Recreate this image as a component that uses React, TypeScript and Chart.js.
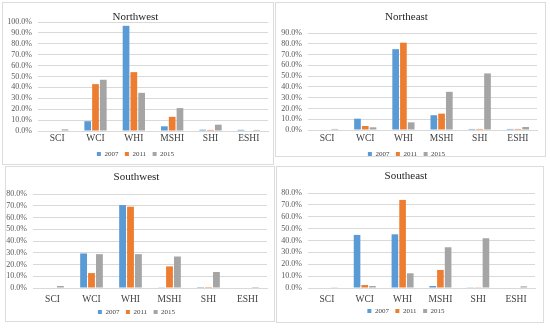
import React, { useEffect, useRef } from "react";
import { Chart, registerables } from "chart.js";
Chart.register(...registerables);

const categories = ["SCI", "WCI", "WHI", "MSHI", "SHI", "ESHI"];
const years = ["2007", "2011", "2015"];
const colors = ["#5B9BD5", "#ED7D31", "#A5A5A5"];

const nw2007 = [0, 9, 96.5, 4.3, 1.2, 1.1];
const nw2011 = [0, 43, 54, 13, 1.0, 0];
const nw2015 = [1.5, 47, 35, 21, 5.8, 1.0];

const ne2007 = [0, 10.5, 75, 13.7, 1.0, 1.0];
const ne2011 = [0, 3.7, 81, 15.2, 1.0, 1.0];
const ne2015 = [1.0, 2.5, 7.1, 35.4, 52.5, 2.8];

const sw2007 = [0, 29.4, 70.6, 0.6, 0.8, 0];
const sw2011 = [0, 12.7, 69.2, 18.4, 0.8, 0];
const sw2015 = [1.7, 28.8, 28.8, 26.8, 13.6, 0.8];

const se2007 = [0, 44.7, 45.2, 1.7, 0.6, 0];
const se2011 = [0, 2.5, 74.2, 15.2, 0.6, 0];
const se2015 = [0.6, 1.7, 12.4, 34.3, 41.9, 1.4];

type Layout = {
  box: { left: number; top: number; width: number; height: number };
  area: { left: number; right: number; top: number; bottom: number };
  titleY: number;
  labelY: number;
  legendY: number;
};

const FONT = "'Liberation Serif', 'Times New Roman', serif";
const TITLE_SIZE = 11;
const XLABEL_SIZE = 9.5;
const LEGEND_SIZE = 7;
const LEGEND_PAD = 6.5;

function Panel(props: { title: string; series: number[][]; yMax: number; layout: Layout }) {
  const ref = useRef<HTMLCanvasElement | null>(null);
  const { box, area, titleY, labelY, legendY } = props.layout;
  const cw = box.width - 2;
  const ch = box.height - 2;
  useEffect(() => {
    if (!ref.current) return;
    const ox = box.left + 1;
    const oy = box.top + 1;
    const aL = area.left - ox;
    const aR = area.right - ox;
    const aT = area.top - oy;
    const aB = area.bottom - oy;
    const tY = titleY - oy;
    const lY = labelY - oy;
    const gY = legendY - oy;
    const titlePadTop = tY - TITLE_SIZE / 2;
    const titlePadBottom = aT - titlePadTop - TITLE_SIZE;
    const xPad = lY - aB - XLABEL_SIZE / 2;
    const xH = gY - aB - LEGEND_PAD - LEGEND_SIZE / 2;
    const legendH = ch - aB - xH;
    const chart = new Chart(ref.current, {
      type: "bar",
      data: {
        labels: categories,
        datasets: years.map((y, i) => ({
          label: y,
          data: props.series[i],
          backgroundColor: colors[i],
          borderColor: colors[i],
          borderWidth: 0,
          categoryPercentage: 0.61,
          barPercentage: 0.86,
        })),
      },
      options: {
        animation: false,
        responsive: false,
        maintainAspectRatio: false,
        devicePixelRatio: 1,
        layout: { padding: { left: 0, right: cw - aR, top: 0, bottom: 0 } },
        plugins: {
          tooltip: { enabled: false },
          title: {
            display: true,
            text: props.title,
            color: "#262626",
            font: { family: FONT, size: TITLE_SIZE, weight: "normal", lineHeight: 1 },
            padding: { top: titlePadTop, bottom: titlePadBottom },
          },
          legend: {
            position: "bottom",
            maxHeight: legendH,
            labels: {
              boxWidth: 4,
              boxHeight: 4,
              padding: LEGEND_PAD,
              color: "#404040",
              font: { family: FONT, size: LEGEND_SIZE },
            },
          },
        },
        scales: {
          x: {
            grid: { display: false, drawTicks: false },
            border: { display: true, color: "#d9d9d9" },
            ticks: {
              color: "#404040",
              padding: xPad,
              font: { family: FONT, size: XLABEL_SIZE, lineHeight: 1 },
              maxRotation: 0,
              autoSkip: false,
            },
            afterFit: (s: any) => {
              s.height = xH;
              // let the category labels run past the axis box instead of being clipped
              s._computeLabelArea = () => undefined;
            },
          },
          y: {
            min: 0,
            max: props.yMax,
            grid: { color: "#d9d9d9", drawTicks: false },
            border: { display: false },
            ticks: {
              stepSize: 10,
              autoSkip: false,
              color: "#595959",
              padding: 6,
              font: { family: FONT, size: 8 },
              callback: (v: any) => Number(v).toFixed(1) + "%",
            },
            afterFit: (s: any) => {
              s.width = aL;
            },
          },
        },
      },
    });
    return () => chart.destroy();
  }, []);
  return (
    <div
      style={{
        position: "absolute",
        left: box.left,
        top: box.top,
        width: box.width,
        height: box.height,
        boxSizing: "border-box",
        border: "1px solid #dcdcdc",
        background: "#fff",
      }}
    >
      <canvas ref={ref} width={cw} height={ch} style={{ display: "block", width: cw, height: ch }} />
    </div>
  );
}

const layouts: Record<string, Layout> = {
  nw: {
    box: { left: 2, top: 2, width: 272, height: 163 },
    area: { left: 38, right: 268, top: 22, bottom: 131 },
    titleY: 17,
    labelY: 138,
    legendY: 154,
  },
  ne: {
    box: { left: 275, top: 2, width: 271, height: 155 },
    area: { left: 308, right: 537, top: 33, bottom: 130 },
    titleY: 17,
    labelY: 138,
    legendY: 154,
  },
  sw: {
    box: { left: 5, top: 166, width: 270, height: 156 },
    area: { left: 33, right: 267, top: 194, bottom: 288 },
    titleY: 177,
    labelY: 299,
    legendY: 312,
  },
  se: {
    box: { left: 276, top: 166, width: 268, height: 157 },
    area: { left: 308, right: 535, top: 193, bottom: 288 },
    titleY: 176,
    labelY: 299,
    legendY: 311,
  },
};

export default function App() {
  return (
    <div style={{ position: "absolute", left: 0, top: 0, width: 550, height: 332, background: "#fff" }}>
      <Panel title="Northwest" series={[nw2007, nw2011, nw2015]} yMax={100} layout={layouts.nw} />
      <Panel title="Northeast" series={[ne2007, ne2011, ne2015]} yMax={90} layout={layouts.ne} />
      <Panel title="Southwest" series={[sw2007, sw2011, sw2015]} yMax={80} layout={layouts.sw} />
      <Panel title="Southeast" series={[se2007, se2011, se2015]} yMax={80} layout={layouts.se} />
    </div>
  );
}
